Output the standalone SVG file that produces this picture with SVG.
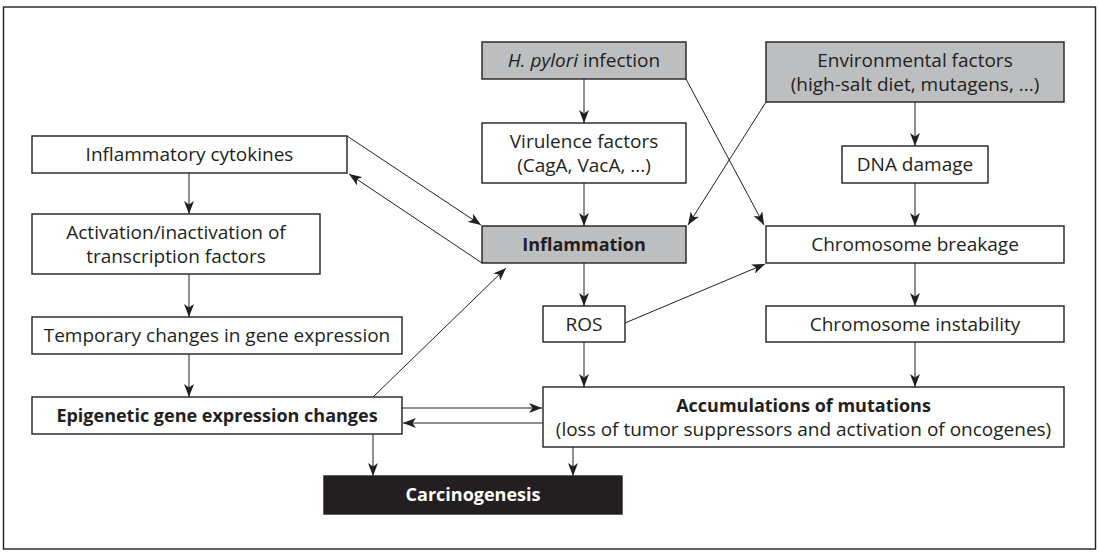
<svg xmlns="http://www.w3.org/2000/svg" width="1099" height="553" viewBox="0 0 1099 553">
<defs>
<marker id="ah" markerWidth="13" markerHeight="10" refX="13" refY="5" orient="auto" markerUnits="userSpaceOnUse">
<path d="M0,0 L13,5 L0,10 L3.5,5 z" fill="#231f20"/>
</marker>
<style>
.box{fill:#fff;stroke:#231f20;stroke-width:1.4}
.gray{fill:#bcbec0}
.dark{fill:#231f20}
.t{font-family:"Open Sans","Noto Sans",sans-serif;font-size:19px;fill:#231f20;text-anchor:middle}
.b{font-weight:bold;font-size:18px}
.w{fill:#fff}
#connectors line{stroke:#231f20;stroke-width:1;marker-end:url(#ah)}
</style>
</defs>
<rect x="0" y="0" width="1099" height="553" fill="#fff"/>
<rect x="3.5" y="7" width="1092" height="542" fill="none" stroke="#231f20" stroke-width="1.4"/>

<g id="cytokines"><rect class="box" x="32" y="136" width="315" height="37"/><text class="t" x="189.5" y="161">Inflammatory cytokines</text></g>
<g id="activation"><rect class="box" x="32" y="214" width="288" height="60"/><text class="t" x="176" y="239">Activation/inactivation of</text><text class="t" x="176" y="263">transcription factors</text></g>
<g id="temporary"><rect class="box" x="32" y="317" width="370" height="37"/><text class="t" x="217" y="342">Temporary changes in gene expression</text></g>
<g id="epigenetic"><rect class="box" x="32" y="397" width="370" height="37"/><text class="t b" x="217" y="422">Epigenetic gene expression changes</text></g>
<g id="carcinogenesis"><rect class="box dark" x="324" y="476" width="298" height="38"/><text class="t b w" x="473" y="501">Carcinogenesis</text></g>
<g id="hpylori"><rect class="box gray" x="482" y="42" width="204" height="37"/><text class="t" x="584" y="67"><tspan font-style="italic">H. pylori</tspan> infection</text></g>
<g id="virulence"><rect class="box" x="482" y="123" width="204" height="60"/><text class="t" x="584" y="148">Virulence factors</text><text class="t" x="584" y="172">(CagA, VacA, ...)</text></g>
<g id="inflammation"><rect class="box gray" x="482" y="226" width="204" height="37"/><text class="t b" x="584" y="251">Inflammation</text></g>
<g id="ros"><rect class="box" x="543" y="306" width="82" height="36"/><text class="t" x="584" y="331">ROS</text></g>
<g id="environmental"><rect class="box gray" x="766" y="42" width="298" height="60"/><text class="t" x="915" y="67">Environmental factors</text><text class="t" x="915" y="91">(high-salt diet, mutagens, ...)</text></g>
<g id="dna"><rect class="box" x="842" y="146" width="146" height="37"/><text class="t" x="915" y="171">DNA damage</text></g>
<g id="breakage"><rect class="box" x="766" y="226" width="298" height="37"/><text class="t" x="915" y="251">Chromosome breakage</text></g>
<g id="instability"><rect class="box" x="766" y="306" width="298" height="36"/><text class="t" x="915" y="331">Chromosome instability</text></g>
<g id="accumulations"><rect class="box" x="543" y="387" width="521" height="60"/><text class="t b" x="803.5" y="412">Accumulations of mutations</text><text class="t" x="803.5" y="436">(loss of tumor suppressors and activation of oncogenes)</text></g>

<g id="connectors">
<line x1="189" y1="173" x2="189" y2="214"/>
<line x1="189" y1="274" x2="189" y2="317"/>
<line x1="189" y1="354" x2="189" y2="397"/>
<line x1="373" y1="434" x2="373" y2="476"/>
<line x1="573" y1="447" x2="573" y2="476"/>
<line x1="584" y1="79" x2="584" y2="123"/>
<line x1="584" y1="183" x2="584" y2="226"/>
<line x1="584" y1="263" x2="584" y2="306"/>
<line x1="584" y1="342" x2="584" y2="387"/>
<line x1="915" y1="102" x2="915" y2="146"/>
<line x1="915" y1="183" x2="915" y2="226"/>
<line x1="915" y1="263" x2="915" y2="306"/>
<line x1="915" y1="342" x2="915" y2="387"/>
<line x1="347" y1="136" x2="481" y2="225"/>
<line x1="482" y1="263" x2="349" y2="174"/>
<line x1="686" y1="79" x2="764" y2="225"/>
<line x1="766" y1="102" x2="688" y2="225"/>
<line x1="625" y1="323" x2="765" y2="264"/>
<line x1="373" y1="397" x2="506" y2="268"/>
<line x1="402" y1="408" x2="542" y2="408"/>
<line x1="543" y1="423" x2="403" y2="423"/>
</g>
</svg>
